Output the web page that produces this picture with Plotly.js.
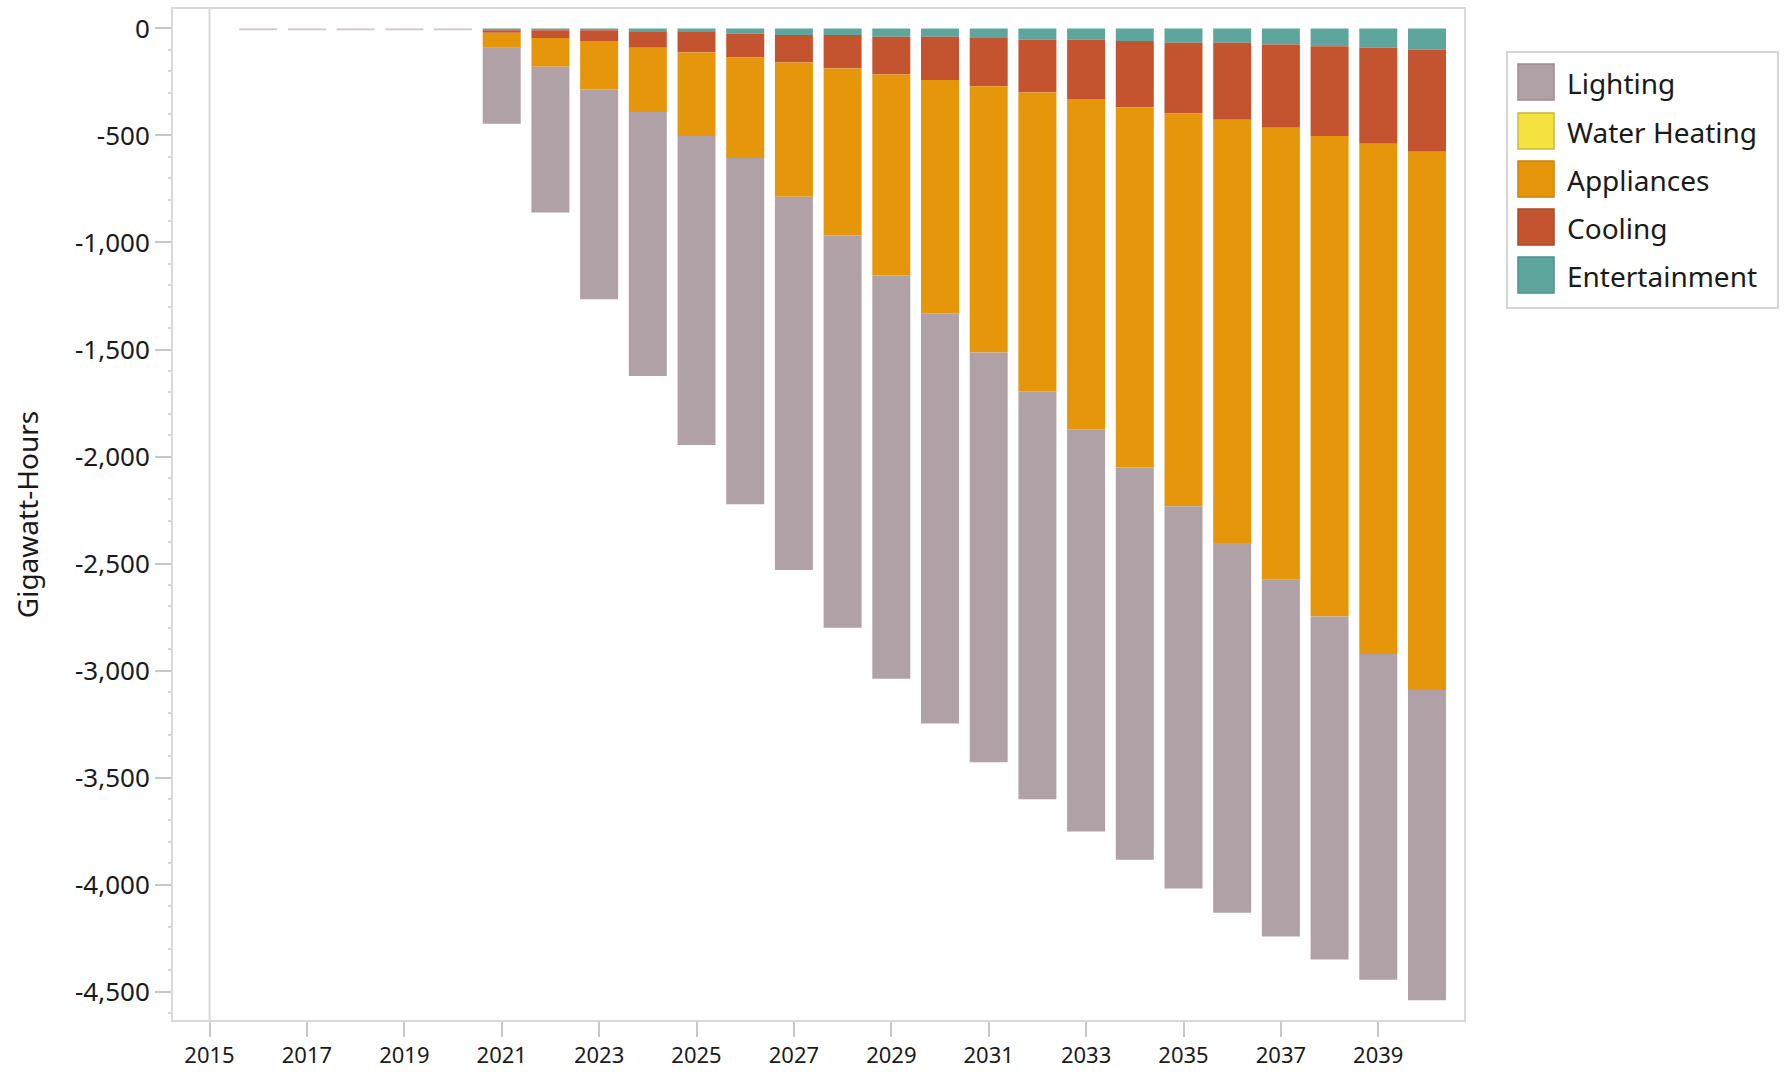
<!DOCTYPE html>
<html>
<head>
<meta charset="utf-8">
<script src="https://cdn.plot.ly/plotly-3.0.1.min.js"></script>
<style>html,body{margin:0;padding:0;background:#fff;}#chart{width:1787px;height:1074px;}</style>
</head>
<body>
<div id="chart"></div>
<script>
const years = [2016,2017,2018,2019,2020,2021,2022,2023,2024,2025,2026,2027,2028,2029,2030,2031,2032,2033,2034,2035,2036,2037,2038,2039,2040];
const entertainment = [0,0,0,0,0,-8,-8,-8,-16,-16,-23,-31,-31,-39,-39,-45,-53,-53,-59,-67,-67,-75,-83,-90,-98];
const cooling = [0,0,0,0,0,-12,-36,-50,-74,-96,-113,-128,-156,-176,-202,-225,-246,-277,-309,-330,-360,-389,-419,-449,-478];
const appliances = [0,0,0,0,0,-70,-135,-226,-300,-390,-469,-627,-780,-939,-1091,-1244,-1396,-1543,-1683,-1835,-1977,-2112,-2246,-2384,-2515];
const waterHeating = [0,0,0,0,0,0,0,0,0,0,0,0,0,0,0,0,0,0,0,0,0,0,0,0,0];
const lighting = [-8,-8,-8,-8,-8,-355,-681,-981,-1234,-1444,-1618,-1744,-1833,-1885,-1916,-1915,-1906,-1879,-1833,-1787,-1728,-1667,-1602,-1522,-1450];
const xTickVals = [2015,2017,2019,2021,2023,2025,2027,2029,2031,2033,2035,2037,2039];
const yTickVals = [0,-500,-1000,-1500,-2000,-2500,-3000,-3500,-4000,-4500];
const yTickText = ["0","-500","-1,000","-1,500","-2,000","-2,500","-3,000","-3,500","-4,000","-4,500"];

const legendNames = ["Lighting","Water Heating","Appliances","Cooling","Entertainment"];
const colors = {
  "Lighting":"#b0a1a6",
  "Water Heating":"#f5e342",
  "Appliances":"#e6960a",
  "Cooling":"#c45330",
  "Entertainment":"#5ea59e"
};
const lineColors = {
  "Lighting":"#9a8c90",
  "Water Heating":"#c9bb3a",
  "Appliances":"#c98409",
  "Cooling":"#a8482a",
  "Entertainment":"#4f8e88"
};

const FONT = '"Noto Sans", "Open Sans", sans-serif';
const TXT = '#1a1a1a';

function barTrace(name, vals){
  const mc = vals.map((v,i)=> (name==="Lighting" && i<5) ? '#cfc4c8' : colors[name]);
  return {type:'bar', name:name, x:years, y:vals, marker:{color:mc, line:{width:0}}, showlegend:false, hoverinfo:'x+y+name'};
}
const data = [
  barTrace("Entertainment", entertainment),
  barTrace("Cooling", cooling),
  barTrace("Appliances", appliances),
  barTrace("Water Heating", waterHeating),
  barTrace("Lighting", lighting)
];

// plot-area pixel geometry
const W = 1787, H = 1074;
const L = 173, R = 1464, T = 9, B = 1020;
const pw = R - L, ph = B - T;
const px = v => (v - L) / pw;
const py = v => (B - v) / ph;

const shapes = [
  {type:'line', xref:'x', yref:'paper', x0:2015, x1:2015, y0:0, y1:1, line:{color:'#d9d9d9', width:2}, layer:'below'},
  {type:'rect', xref:'paper', yref:'paper', x0:px(1507), x1:px(1778), y0:py(308), y1:py(52), line:{color:'#d6d6d6', width:2}, fillcolor:'#ffffff'}
];
const annotations = [];
const rowY = [82,131,179,227,275];
legendNames.forEach((n,i)=>{
  const cy = rowY[i];
  shapes.push({type:'rect', xref:'paper', yref:'paper', x0:px(1518), x1:px(1554), y0:py(cy+18), y1:py(cy-18), fillcolor:colors[n], line:{color:lineColors[n], width:1.5}});
  annotations.push({xref:'paper', yref:'paper', x:px(1565), y:py(cy+1), xanchor:'left', yanchor:'middle', text:n, showarrow:false, font:{family:FONT, size:28, color:TXT}});
});

const layout = {
  width:W, height:H,
  margin:{l:L, r:W-R, t:T, b:H-B, pad:0},
  paper_bgcolor:'#ffffff', plot_bgcolor:'#ffffff',
  barmode:'relative', bargap:0.22,
  showlegend:false,
  font:{family:FONT, color:TXT},
  xaxis:{
    range:[2014.25, 2040.76], tickmode:'array', tickvals:xTickVals,
    ticks:'outside', ticklen:15, tickwidth:2, tickcolor:'#c8c8c8',
    showgrid:false, zeroline:false,
    showline:true, linecolor:'#d9d9d9', linewidth:2, mirror:true,
    tickfont:{family:FONT, size:22, color:TXT}
  },
  yaxis:{
    range:[-4633, 91], tickmode:'array', tickvals:yTickVals, ticktext:yTickText,
    ticks:'outside', ticklen:16, tickwidth:2, tickcolor:'#c8c8c8',
    minor:{dtick:100, ticks:'outside', ticklen:3, tickwidth:2, tickcolor:'#d6d6d6', showgrid:false},
    showgrid:false, zeroline:false,
    showline:true, linecolor:'#d9d9d9', linewidth:2, mirror:true,
    tickfont:{family:FONT, size:26, color:TXT},
    title:{text:'Gigawatt-Hours', font:{family:FONT, size:28, color:TXT}, standoff:28}
  },
  shapes:shapes,
  annotations:annotations
};
Plotly.newPlot('chart', data, layout, {displayModeBar:false, staticPlot:true});
</script>
</body>
</html>
